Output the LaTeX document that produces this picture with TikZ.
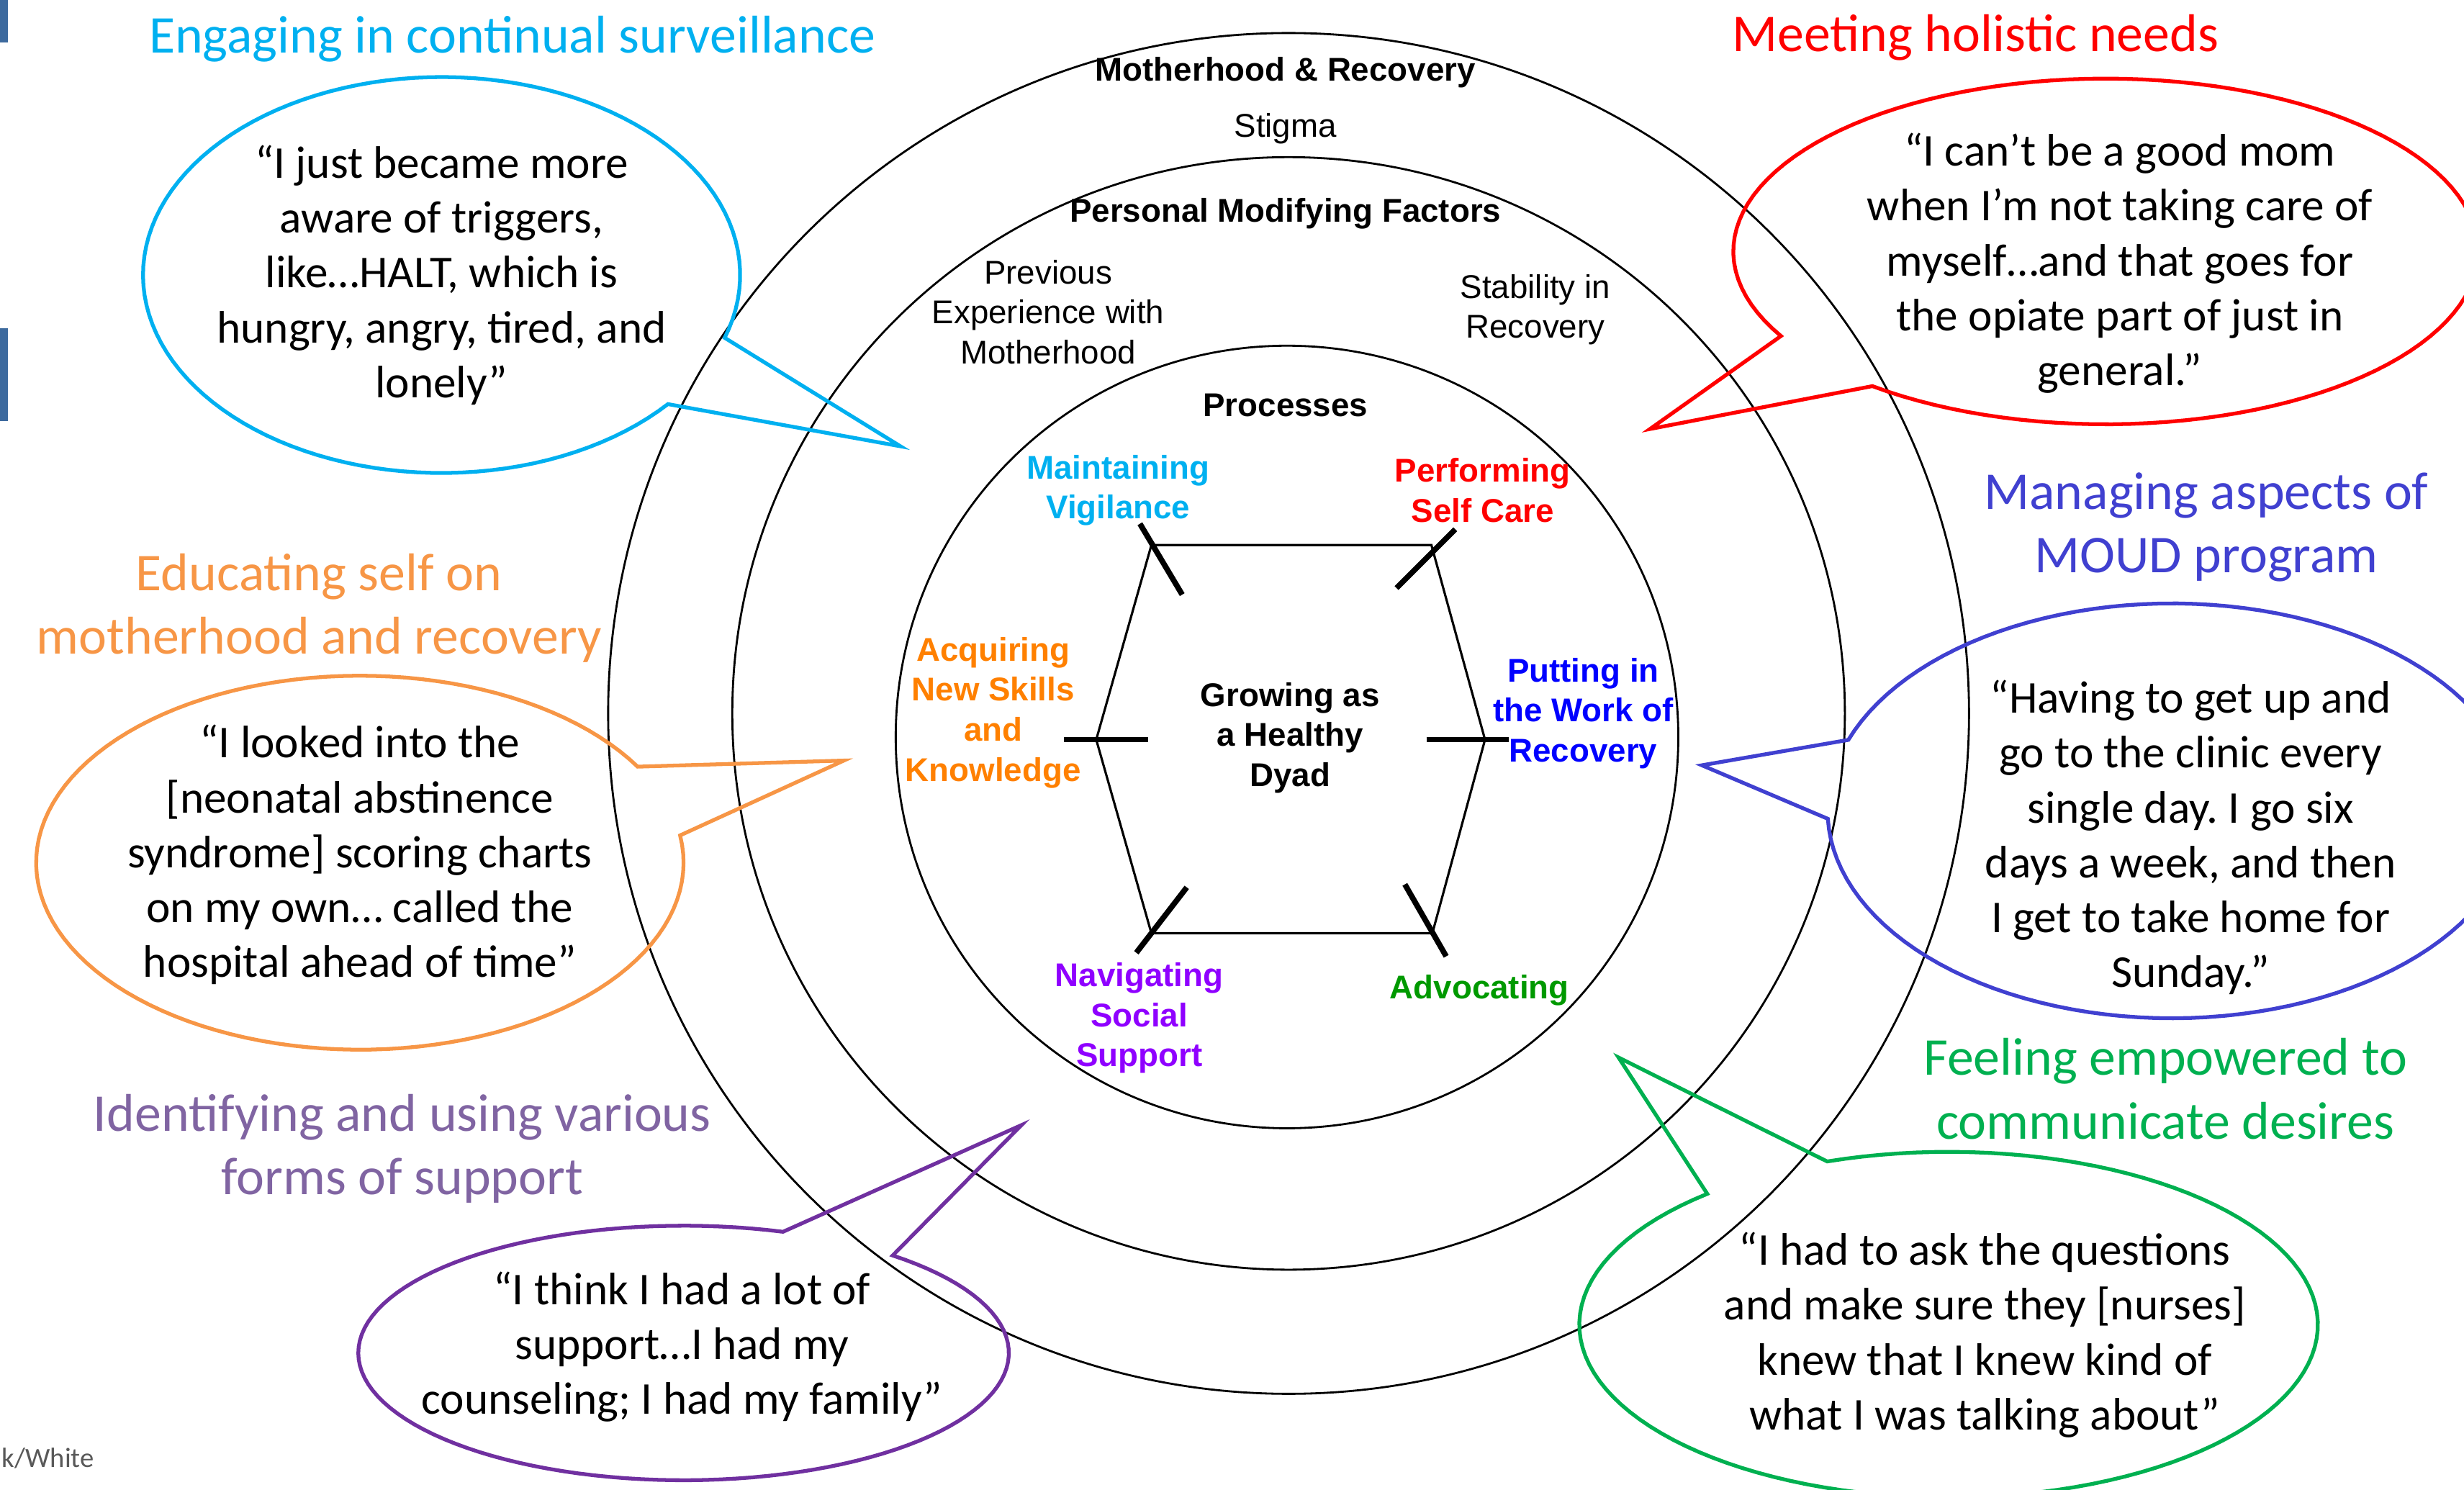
\documentclass[tikz,border=0pt]{standalone}
\usepackage{fontspec}
\setmainfont{Carlito}
\newfontfamily\arialfont{Liberation Sans}
\frenchspacing
\definecolor{surveil}{RGB}{0,176,240}
\definecolor{holistic}{RGB}{255,0,0}
\definecolor{moud}{RGB}{64,64,208}
\definecolor{educate}{RGB}{247,150,70}
\definecolor{supporttitle}{RGB}{128,100,162}
\definecolor{supportline}{RGB}{112,48,160}
\definecolor{empower}{RGB}{0,176,80}
\definecolor{acquire}{RGB}{255,128,0}
\definecolor{putwork}{RGB}{0,0,255}
\definecolor{navigate}{RGB}{143,0,255}
\definecolor{advocate}{RGB}{0,153,0}
\definecolor{slidebar}{RGB}{61,106,158}
\definecolor{footgray}{RGB}{89,89,89}

\begin{document}
\begin{tikzpicture}[x=0.02183cm, y=-0.02183cm,
    ringline/.style={line width=0.8pt},
    hexline/.style={line width=0.9pt},
    hexmark/.style={line width=2.2pt},
    bubbleline/.style={line width=1.5pt},
    themetext/.style={font=\fontsize{21}{25.2}\selectfont, align=center},
    quotetext/.style={font=\fontsize{18}{21.7}\selectfont, align=center},
    layertext/.style={font=\arialfont\fontsize{13}{15.8}\selectfont, align=center},
    headtext/.style={font=\arialfont\bfseries\fontsize{13}{15.8}\selectfont, align=center}]
  \useasboundingbox (0,0) rectangle (1568,948);

  \fill[slidebar] (0,0) rectangle (5,27);
  \fill[slidebar] (0,209) rectangle (5,268);
  \node[anchor=west, inner sep=0, text=footgray, font=\fontsize{11}{13}\selectfont] (credit) at (1,928) {k/White};

  \draw[ringline] (820,454) circle (433);
  \draw[ringline] (820,454) circle (354);
  \draw[ringline] (819,469) circle (249);

  \node[headtext] (context) at (818,46) {Motherhood \& Recovery};
  \node[layertext] (stigma) at (818,82) {Stigma};
  \node[headtext] (personal) at (818,136) {Personal Modifying Factors};
  \node[layertext] (previous) at (667,198.5) {Previous\\Experience with\\Motherhood};
  \node[layertext] (stability) at (977,197) {Stability in\\Recovery};
  \node[headtext] (processes) at (818,258) {Processes};
  \node[headtext] (dyad) at (821,469.5) {Growing as\\a Healthy\\Dyad};

  \node[headtext, text=surveil] (vigilance) at (711.5,312) {Maintaining\\Vigilance};
  \node[headtext, text=holistic] (selfcare) at (943.5,312) {Performing\\Self Care};
  \node[headtext, text=acquire] (skills) at (632,453.5) {Acquiring\\New Skills\\and\\Knowledge};
  \node[headtext, text=putwork] (work) at (1007.5,454) {Putting in\\the Work of\\Recovery};
  \node[headtext, text=navigate] (social) at (725,648) {Navigating\\Social\\Support};
  \node[headtext, text=advocate] (advocating) at (941.5,630) {Advocating};

  \coordinate (hexnw) at (732.7,346.9);
  \coordinate (hexne) at (910.9,346.9);
  \coordinate (hexe) at (945,470.7);
  \coordinate (hexse) at (911.5,593.9);
  \coordinate (hexsw) at (732.7,593.9);
  \coordinate (hexw) at (697.6,470.7);
  \draw[hexline] (hexnw) -- (hexne) -- (hexe) -- (hexse) -- (hexsw) -- (hexw) -- cycle;
  \draw[hexmark] (725.4,333.3) -- (752.3,378.4);
  \draw[hexmark] (926.1,336.8) -- (888.7,374.2);
  \draw[hexmark] (677.2,470.7) -- (730.4,470.7);
  \draw[hexmark] (907.7,470.7) -- (960.3,470.7);
  \draw[hexmark] (755.2,564.7) -- (723.1,606.3);
  \draw[hexmark] (894,562.8) -- (920.3,608.6);

  \node[themetext, text=surveil] (survtitle) at (326,25) {Engaging in continual surveillance};
  \node[themetext, text=holistic] (needtitle) at (1257,24) {Meeting holistic needs};
  \node[themetext, text=moud] (moudtitle) at (1404,335.5) {Managing aspects of\\MOUD program};
  \node[themetext, text=educate] (edutitle) at (203,387) {Educating self on\\motherhood and recovery};
  \node[themetext, text=supporttitle] (supptitle) at (256,731) {Identifying and using various\\forms of support};
  \node[themetext, text=empower] (emptitle) at (1378,693) {Feeling empowered to\\communicate desires};

  \coordinate (survtip) at (573,284);
  \coordinate (needtip) at (1050,273);
  \coordinate (moudtip) at (1083,487);
  \coordinate (edutip) at (537,484);
  \coordinate (supptip) at (650,716);
  \coordinate (emptip) at (1030,673);
  \draw[bubbleline, surveil] plot[domain=40.7:378.5, samples=120, variable=\t] ({281+190*cos(\t)},{175+126*sin(\t)}) -- (survtip) -- cycle;
  \draw[bubbleline, holistic] plot[domain=150.7:488.8, samples=120, variable=\t] ({1340+237*cos(\t)},{160+110*sin(\t)}) -- (needtip) -- cycle;
  \draw[bubbleline, moud] plot[domain=200:537.8, samples=120, variable=\t] ({1382+219*cos(\t)},{516+132*sin(\t)}) -- (moudtip) -- cycle;
  \draw[bubbleline, educate] plot[domain=-8.4:329.1, samples=120, variable=\t] ({229+206*cos(\t)},{549+119*sin(\t)}) -- (edutip) -- cycle;
  \draw[bubbleline, supportline] plot[domain=-50:287.8, samples=120, variable=\t] ({435+207*cos(\t)},{861+81*sin(\t)}) -- (supptip) -- cycle;
  \draw[bubbleline, empower] plot[domain=250.8:589.2, samples=120, variable=\t] ({1240+235*cos(\t)},{843+110*sin(\t)}) -- (emptip) -- cycle;

  \node[quotetext] (survquote) at (281,175) {“I just became more\\aware of triggers,\\like…HALT, which is\\hungry, angry, tired, and\\lonely”};
  \node[quotetext] (needquote) at (1349,167.5) {“I can’t be a good mom\\when I’m not taking care of\\myself…and that goes for\\the opiate part of just in\\general.”};
  \node[quotetext] (moudquote) at (1394,533) {“Having to get up and\\go to the clinic every\\single day. I go six\\days a week, and then\\I get to take home for\\Sunday.”};
  \node[quotetext] (eduquote) at (229,544) {“I looked into the\\{}[neonatal abstinence\\syndrome] scoring charts\\on my own… called the\\hospital ahead of time”};
  \node[quotetext] (suppquote) at (434,857) {“I think I had a lot of\\support…I had my\\counseling; I had my family”};
  \node[quotetext] (empquote) at (1263,849.5) {“I had to ask the questions\\and make sure they [nurses]\\knew that I knew kind of\\what I was talking about”};
\end{tikzpicture}
\end{document}
